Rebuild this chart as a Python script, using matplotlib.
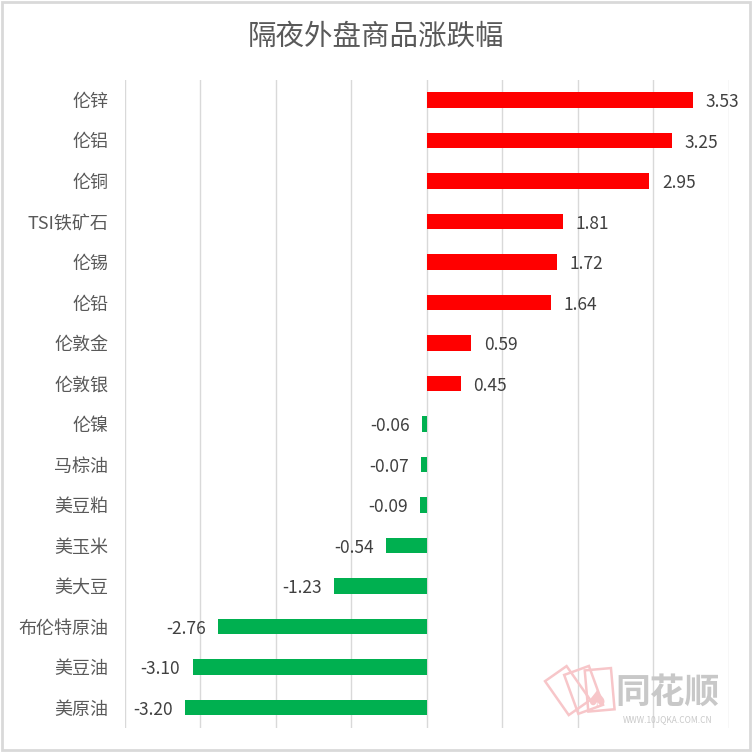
import matplotlib
matplotlib.use("Agg")
import matplotlib.pyplot as plt
from matplotlib.patches import Rectangle
import matplotlib.transforms as mtransforms

plt.rcParams['font.family'] = ['Noto Sans CJK SC', 'DejaVu Sans']

title = "隔夜外盘商品涨跌幅"
names = ["伦锌", "伦铝", "伦铜", "TSI铁矿石", "伦锡", "伦铅", "伦敦金", "伦敦银",
         "伦镍", "马棕油", "美豆粕", "美玉米", "美大豆", "布伦特原油", "美豆油", "美原油"]
changes = [3.53, 3.25, 2.95, 1.81, 1.72, 1.64, 0.59, 0.45,
           -0.06, -0.07, -0.09, -0.54, -1.23, -2.76, -3.10, -3.20]

fig = plt.figure(figsize=(7.52, 7.52), dpi=100)
ax = fig.add_axes([0.166, 0.032, 0.803, 0.862])

y = list(range(len(names)))
colors = ["#FF0000" if v >= 0 else "#00B050" for v in changes]
ax.barh(y, changes, height=0.38, color=colors, zorder=3)

for yi, v in zip(y, changes):
    if v >= 0:
        ax.annotate(f"{v:.2f}", (v, yi), xytext=(9, -1.5), textcoords="offset points",
                    ha="left", va="center", fontsize=12.5, color="#404040")
    else:
        ax.annotate(f"{v:.2f}", (v, yi), xytext=(-9, -1.5), textcoords="offset points",
                    ha="right", va="center", fontsize=12.5, color="#404040")

ax.set_xlim(-4, 4)
ax.set_ylim(len(names) - 0.5, -0.5)
ax.set_xticks(range(-4, 5))
ax.set_xticklabels([])
ax.tick_params(axis="x", length=0)
ax.grid(axis="x", color="#D9D9D9", linewidth=1, zorder=0)
ax.set_yticks(y)
ax.set_yticklabels(names, fontsize=13, color="#595959")
ax.tick_params(axis="y", length=0, pad=12)
for s in ax.spines.values():
    s.set_visible(False)

fig.text(0.5, 0.951, title, ha="center", va="center", fontsize=20.5, color="#595959")

# watermark
pink = "#F7C6C9"
for ang, dx in [(35, 0.0), (20, 0.018), (5, 0.036)]:
    tr = mtransforms.Affine2D().rotate_deg_around(0.76 + dx, 0.07, ang) + fig.transFigure
    fig.patches.append(Rectangle((0.745 + dx, 0.055), 0.035, 0.055, transform=tr,
                                 fill=False, edgecolor=pink, linewidth=1.8))
fig.text(0.793, 0.068, "♠", ha="center", va="center", fontsize=18, color=pink,
         family="DejaVu Sans")
fig.text(0.888, 0.080, "同花顺", ha="center", va="center", fontsize=25,
         color="#C8C8C8", fontweight="bold")
fig.text(0.888, 0.043, "WWW.10JQKA.COM.CN", ha="center", va="center", fontsize=6,
         color="#C8C8C8")

fig.patches.append(Rectangle((0.002, 0.002), 0.996, 0.996, transform=fig.transFigure,
                             fill=False, edgecolor="#D9D9D9", linewidth=2))

fig.savefig("out.png", dpi=100)
